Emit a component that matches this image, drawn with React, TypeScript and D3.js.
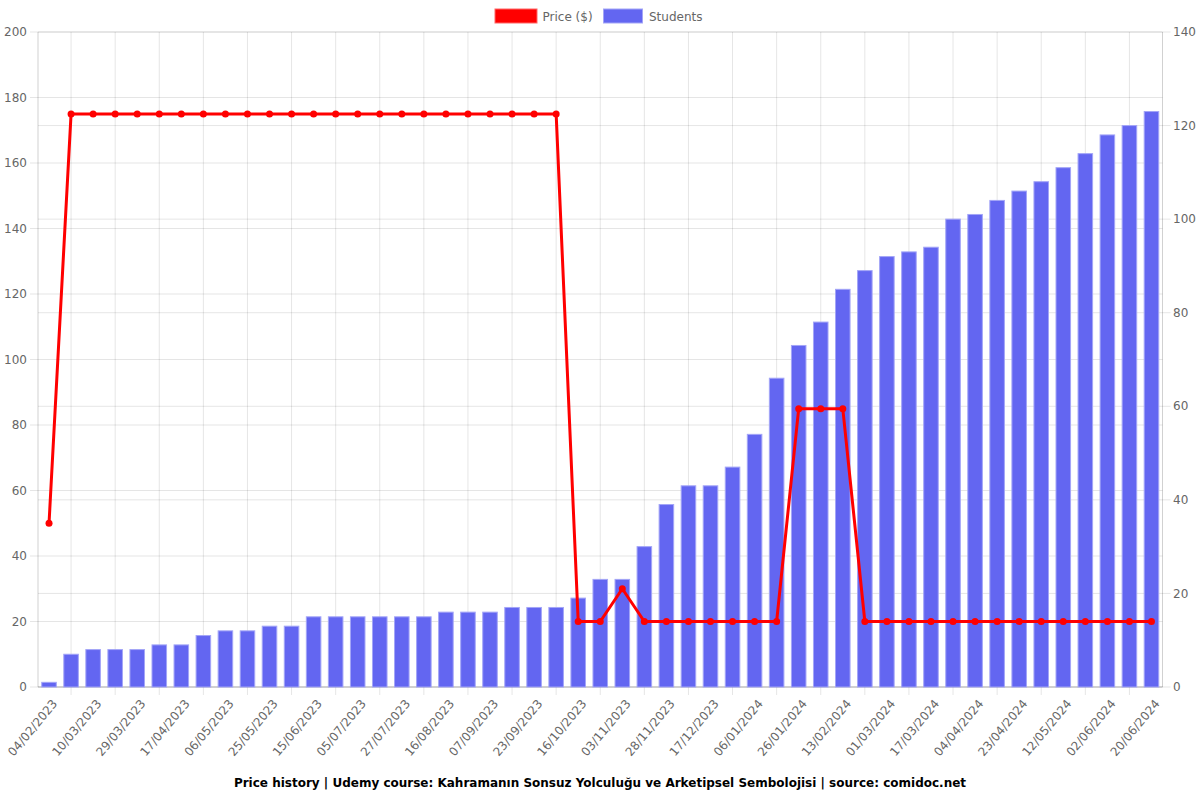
import React from "react";
import * as d3 from "d3";

const dateLabels: string[] = [
  "04/02/2023", "", "10/03/2023", "", "29/03/2023", "", "17/04/2023", "", "06/05/2023", "",
  "25/05/2023", "", "15/06/2023", "", "05/07/2023", "", "27/07/2023", "", "16/08/2023", "",
  "07/09/2023", "", "23/09/2023", "", "16/10/2023", "", "03/11/2023", "", "28/11/2023", "",
  "17/12/2023", "", "06/01/2024", "", "26/01/2024", "", "13/02/2024", "", "01/03/2024", "",
  "17/03/2024", "", "04/04/2024", "", "23/04/2024", "", "12/05/2024", "", "02/06/2024", "",
  "20/06/2024",
];

const students: number[] = [
  1, 7, 8, 8, 8, 9, 9, 11, 12, 12,
  13, 13, 15, 15, 15, 15, 15, 15, 16, 16,
  16, 17, 17, 17, 19, 23, 23, 30, 39, 43,
  43, 47, 54, 66, 73, 78, 85, 89, 92, 93,
  94, 100, 101, 104, 106, 108, 111, 114, 118, 120,
  123,
];

const prices: number[] = [
  50, 175, 175, 175, 175, 175, 175, 175, 175, 175,
  175, 175, 175, 175, 175, 175, 175, 175, 175, 175,
  175, 175, 175, 175, 20, 20, 30, 20, 20, 20,
  20, 20, 20, 20, 85, 85, 85, 20, 20, 20,
  20, 20, 20, 20, 20, 20, 20, 20, 20, 20,
  20,
];

const leftTicks = [0, 20, 40, 60, 80, 100, 120, 140, 160, 180, 200];
const rightTicks = [0, 20, 40, 60, 80, 100, 120, 140];

const title =
  "Price history | Udemy course: Kahramanın Sonsuz Yolculuğu ve Arketipsel Sembolojisi | source: comidoc.net";

export default function App() {
  const W = 1200;
  const H = 800;
  const left = 38;
  const right = 1162.5;
  const top = 32;
  const bottom = 687;
  const font = "'DejaVu Sans', sans-serif";
  const gridColor = "rgba(0,0,0,0.1)";
  const axisColor = "rgba(0,0,0,0.18)";
  const tickColor = "#666";

  const x = d3
    .scaleBand<number>()
    .domain(d3.range(students.length))
    .range([left, right])
    .padding(0);
  const step = x.bandwidth();
  const cx = (i: number) => (x(i) as number) + step / 2;
  const barW = step * 0.66;
  const yL = d3.scaleLinear().domain([0, 200]).range([bottom, top]);
  const yR = d3.scaleLinear().domain([0, 140]).range([bottom, top]);

  const line = d3
    .line<number>()
    .x((_, i) => cx(i))
    .y((d) => yL(d));

  const vGrid = d3.range(1, students.length, 2);

  return (
    <svg
      width={W}
      height={H}
      style={{ position: "absolute", left: 0, top: 0, background: "#fff" }}
      fontFamily={font}
    >
      <rect x={0} y={0} width={W} height={H} fill="#fff" />
      {leftTicks.map((t) => (
        <line
          key={"gl" + t}
          x1={left - 8}
          x2={right}
          y1={yL(t)}
          y2={yL(t)}
          stroke={gridColor}
          strokeWidth={1}
        />
      ))}
      {rightTicks.map((t) => (
        <line
          key={"gr" + t}
          x1={left}
          x2={right + 8}
          y1={yR(t)}
          y2={yR(t)}
          stroke={gridColor}
          strokeWidth={1}
        />
      ))}
      {vGrid.map((i) => (
        <line
          key={"gv" + i}
          x1={cx(i)}
          x2={cx(i)}
          y1={top}
          y2={bottom + 8}
          stroke={gridColor}
          strokeWidth={1}
        />
      ))}
      <line x1={left} x2={left} y1={top} y2={bottom} stroke={axisColor} />
      <line x1={right} x2={right} y1={top} y2={bottom} stroke={axisColor} />
      <line x1={left} x2={right} y1={bottom} y2={bottom} stroke={axisColor} />

      {students.map((v, i) => (
        <rect
          key={"b" + i}
          x={cx(i) - barW / 2}
          y={yR(v)}
          width={barW}
          height={bottom - yR(v)}
          fill="#6366f1"
          stroke="#a3a5f7"
          strokeWidth={1}
        />
      ))}

      <path d={line(prices) || ""} fill="none" stroke="#ff0000" strokeWidth={3} strokeLinejoin="round" />
      {prices.map((v, i) => (
        <circle key={"p" + i} cx={cx(i)} cy={yL(v)} r={3.5} fill="#ff0000" />
      ))}

      {leftTicks.map((t) => (
        <text
          key={"lt" + t}
          x={27}
          y={yL(t)}
          dy="0.35em"
          textAnchor="end"
          fontSize={12}
          fill={tickColor}
        >
          {t}
        </text>
      ))}
      {rightTicks.map((t) => (
        <text
          key={"rt" + t}
          x={1173}
          y={yR(t)}
          dy="0.35em"
          textAnchor="start"
          fontSize={12}
          fill={tickColor}
        >
          {t}
        </text>
      ))}
      {dateLabels.map((d, i) =>
        d ? (
          <text
            key={"xt" + i}
            transform={`translate(${cx(i) + 9},${bottom + 17}) rotate(-50)`}
            textAnchor="end"
            fontSize={12}
            fill={tickColor}
          >
            {d}
          </text>
        ) : null
      )}

      <rect x={495} y={9} width={42} height={14} fill="#ff0000" stroke="#ff6666" strokeWidth={1} />
      <text x={542.5} y={20.5} fontSize={12} fill={tickColor}>
        Price ($)
      </text>
      <rect x={603.5} y={9} width={39} height={14} fill="#6366f1" stroke="#a3a5f7" strokeWidth={1} />
      <text x={649} y={20.5} fontSize={12} fill={tickColor}>
        Students
      </text>

      <text x={600} y={787} textAnchor="middle" fontSize={12} fontWeight="bold" fill="#000">
        {title}
      </text>
    </svg>
  );
}
